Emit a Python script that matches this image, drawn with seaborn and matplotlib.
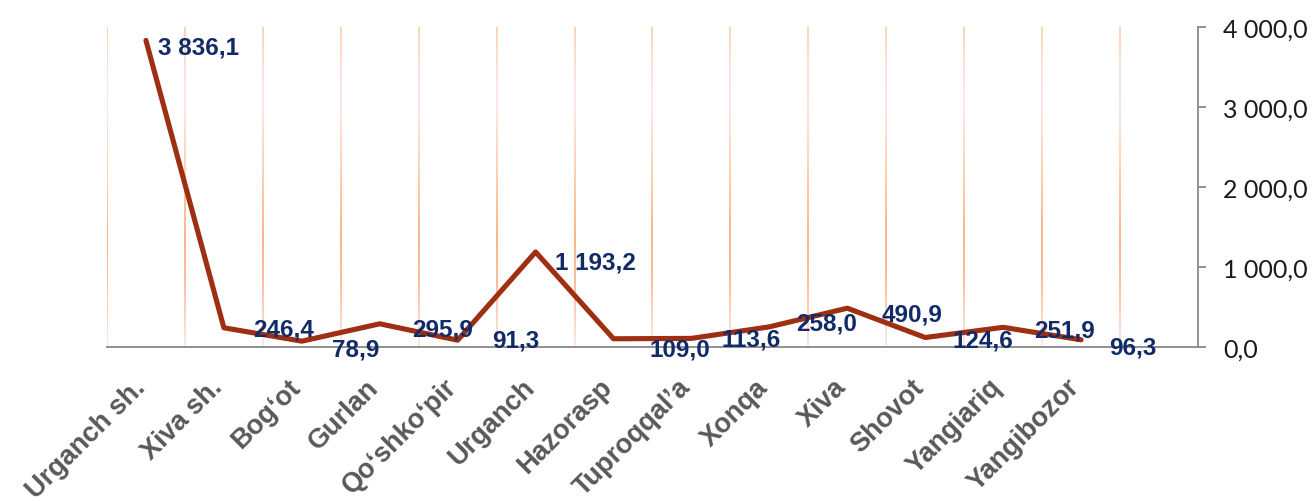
import numpy as np
import matplotlib
matplotlib.use("Agg")
import matplotlib.pyplot as plt
import seaborn as sns
from matplotlib.collections import LineCollection
from matplotlib.colors import LinearSegmentedColormap
from matplotlib.ticker import FixedLocator, FuncFormatter, NullFormatter

# District names and values
districts = ["Urganch sh.", "Xiva sh.", "Bog\u2018ot", "Gurlan", "Qo\u2018shko\u2018pir",
             "Urganch", "Hazorasp", "Tuproqqal\u2019a", "Xonqa", "Xiva", "Shovot",
             "Yangiariq", "Yangibozor"]
values = [3836.1, 246.4, 78.9, 295.9, 91.3, 1193.2, 109.0, 113.6, 258.0,
          490.9, 124.6, 251.9, 96.3]
y_ticks = [0, 1000, 2000, 3000, 4000]

# Per-label nudges (pixels right, pixels down) for the value labels
label_nudge = [(12, 7), (29, 1), (30, 8), (32, 5), (34, 0), (19, 10), (36, 10),
               (30, 1), (27, -4), (34, 6), (27, 2), (31, 3), (28, 7)]

LINE_COLOR = "#9E2F12"
LABEL_COLOR = "#112A68"
AXIS_COLOR = "#888888"
TEXT_GRAY = "#595959"


def fmt_num(v):
    return f"{v:,.1f}".replace(",", " ").replace(".", ",")


sns.set_style("white")
plt.rcParams["font.family"] = ["Liberation Sans", "DejaVu Sans"]

fig = plt.figure(figsize=(13.16, 5.02), dpi=100)
ax = fig.add_axes([0.0813, 0.3058, 0.8290, 0.6378])

pos = np.arange(len(districts))
n_slots = len(districts) + 1  # one empty slot at the right end

# Vertical gradient separators between category slots
grad = LinearSegmentedColormap.from_list(
    "sep",
    [(0.00, "#FEE7E5"), (0.07, "#FDD9CC"), (0.20, "#FBBE98"), (0.35, "#FAB487"),
     (0.55, "#FCD0AE"), (0.75, "#FEE6E6"), (0.86, "#FDE2DF"), (1.00, "#FCD4B2")])
ymax = y_ticks[-1]
nseg = 120
ys = np.linspace(0, ymax, nseg + 1)
segs, cols = [], []
for xb in np.arange(-0.5, len(districts), 1.0):
    for i in range(nseg):
        segs.append([(xb, ys[i]), (xb, ys[i + 1])])
        cols.append(grad((ys[i] + ys[i + 1]) / 2 / ymax))
ax.add_collection(LineCollection(segs, colors=cols, linewidths=1.4, zorder=1))

sns.lineplot(x=pos, y=values, color=LINE_COLOR, linewidth=3.7, ax=ax, zorder=3)

px = 0.72  # points per pixel at 100 dpi
for x, v, (dx, dy) in zip(pos, values, label_nudge):
    ax.annotate(fmt_num(v), (x, v), xytext=(dx * px, -dy * px),
                textcoords="offset points", ha="left", va="center",
                fontsize=17.5, fontweight="bold", color=LABEL_COLOR, zorder=4)

ax.set_xlim(-0.5, n_slots - 0.5)
ax.set_ylim(0, ymax)

# Spines: value axis on the right, category axis at the bottom
ax.spines["left"].set_visible(False)
ax.spines["top"].set_visible(False)
for s in ("right", "bottom"):
    ax.spines[s].set_color(AXIS_COLOR)
    ax.spines[s].set_linewidth(1.3)

ax.yaxis.tick_right()
ax.yaxis.set_major_locator(FixedLocator(y_ticks))
ax.yaxis.set_major_formatter(FuncFormatter(lambda v, _: fmt_num(v)))
ax.tick_params(axis="y", which="major", direction="out", length=6, width=1.3,
               color=AXIS_COLOR, pad=12, labelsize=18, labelcolor="#1A1A1A")
for t in ax.get_yticklabels():
    t.set_family(["Lato", "DejaVu Sans"])

ax.xaxis.set_major_locator(FixedLocator(np.arange(n_slots)))
ax.xaxis.set_minor_locator(FixedLocator(np.arange(n_slots + 1) - 0.5))
ax.xaxis.set_minor_formatter(NullFormatter())
ax.set_xticklabels(districts + [""])
ax.tick_params(axis="x", which="both", direction="out", length=6, width=1.3,
               color=AXIS_COLOR, pad=23)
for t in ax.get_xticklabels():
    t.set_rotation(45)
    t.set_ha("right")
    t.set_va("baseline")
    t.set_rotation_mode("anchor")
    t.set_fontsize(19.5)
    t.set_fontweight("bold")
    t.set_color(TEXT_GRAY)

ax.set_xlabel("")
ax.set_ylabel("")
ax.grid(False)

fig.savefig("out.png", dpi=100, facecolor="white")
